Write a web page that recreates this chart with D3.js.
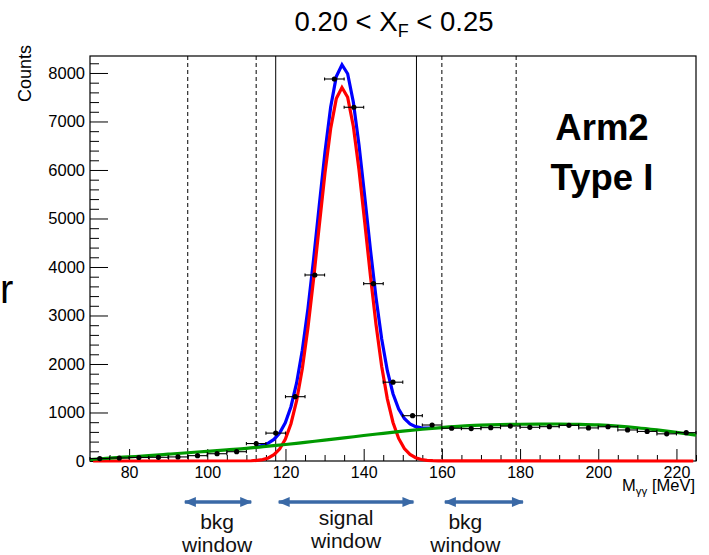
<!DOCTYPE html>
<html>
<head>
<meta charset="utf-8" />
<style>
  body { margin: 0; background: #fff; }
  svg { display: block; font-family: "Liberation Sans", Arial, sans-serif; }
</style>
</head>
<body>
<svg id="chart"></svg>
<script src="https://d3js.org/d3.v7.min.js"></script>
<script>
  // histogram: bin centres (MeV) and counts
  const binCenters = [72.5, 77.5, 82.5, 87.5, 92.5, 97.5, 102.5, 107.5, 112.5, 117.5,
    122.5, 127.5, 132.5, 137.5, 142.5, 147.5, 152.5, 157.5, 162.5, 167.5,
    172.5, 177.5, 182.5, 187.5, 192.5, 197.5, 202.5, 207.5, 212.5, 217.5, 222.5];
  const counts = [50, 62, 72, 76, 84, 110, 150, 192, 360, 575,
    1326, 3835, 7876, 7293, 3656, 1625, 934, 742, 675, 668,
    688, 720, 695, 708, 735, 682, 706, 640, 610, 560, 585];
  const binHalfWidth = 2.5;

  // background fit (green)
  const bkgX = [70, 75, 80, 85, 90, 95, 100, 105, 110, 115, 120, 125, 130, 135, 140, 145,
    150, 155, 160, 165, 170, 175, 180, 185, 190, 195, 200, 205, 210, 215, 220, 225];
  const bkgY = [30, 60, 85, 110, 140, 170, 200, 230, 260, 300, 340, 385, 430, 475, 525, 570,
    615, 655, 690, 720, 738, 750, 758, 762, 763, 757, 745, 720, 685, 640, 590, 535];

  // signal fit (red) and total fit (blue), sampled
  const peakX = [112.7, 114.15, 115.6, 117.05, 118.5, 119.95, 121.4, 122.85, 124.3, 125.75,
    127.2, 128.65, 130.1, 131.55, 133.0, 134.45, 135.9, 137.35, 138.8, 140.25,
    141.7, 143.15, 144.6, 146.05, 147.5, 148.95, 150.4, 151.85, 153.3, 154.75, 156.2, 157.65];
  const sigY = [13, 29, 63, 129, 247, 448, 768, 1243, 1903, 2753,
    3763, 4861, 5937, 6850, 7471, 7700, 7500, 6904, 6005, 4938,
    3837, 2818, 1955, 1282, 795, 465, 258, 135, 67, 31, 14, 6];
  const totY = [293, 322, 368, 445, 575, 788, 1120, 1609, 2282, 3145,
    4168, 5279, 6368, 7294, 7928, 8170, 7984, 7402, 6518, 5465,
    4377, 3371, 2521, 1861, 1387, 1070, 876, 764, 708, 684, 678, 676];
  const sigTailX = [70.8, 111.25];
  const sigTailY = [0, 5];
  const sigEndX = [159.1, 224.3];
  const sigEndY = [2, 0];

  const dashedCuts = [95, 112.5, 160, 179];
  const solidCuts = [117.5, 153.5];

  const xMajor = [80, 100, 120, 140, 160, 180, 200, 220];
  const yMajor = [0, 1000, 2000, 3000, 4000, 5000, 6000, 7000, 8000];

  const windowNames = [["bkg", "window"], ["signal", "window"], ["bkg", "window"]];
  const windowSpans = [[93.5, 112], [117.5, 153.5], [160, 181.5]];
  const windowLabelAt = [102.5, 135.5, 166];

  const width = 709;
  const height = 555;

  const x = d3.scaleLinear().domain([70, 225]).range([90, 696]);
  const y = d3.scaleLinear().domain([0, 8350]).range([461, 56]);

  const svg = d3.select("#chart")
    .attr("width", width)
    .attr("height", height)
    .attr("viewBox", [0, 0, width, height]);

  // window boundaries
  svg.append("g")
    .selectAll("line")
    .data(dashedCuts)
    .join("line")
    .attr("x1", (d) => x(d)).attr("x2", (d) => x(d))
    .attr("y1", y(8350)).attr("y2", y(0))
    .attr("stroke", "#000")
    .attr("stroke-width", 1)
    .attr("stroke-dasharray", "4,3");

  svg.append("g")
    .selectAll("line")
    .data(solidCuts)
    .join("line")
    .attr("x1", (d) => x(d)).attr("x2", (d) => x(d))
    .attr("y1", y(8350)).attr("y2", y(0))
    .attr("stroke", "#000")
    .attr("stroke-width", 1);

  // frame
  svg.append("rect")
    .attr("x", x(70)).attr("y", y(8350))
    .attr("width", x(225) - x(70)).attr("height", y(0) - y(8350))
    .attr("fill", "none")
    .attr("stroke", "#000")
    .attr("stroke-width", 1.2);

  // x axis (ticks point inward)
  const xMinor = d3.range(75, 226, 5).filter((v) => !xMajor.includes(v));
  svg.append("g")
    .attr("transform", `translate(0,${y(0)})`)
    .call(d3.axisBottom(x).tickValues(xMinor).tickSize(-6).tickFormat(""))
    .call((g) => g.select(".domain").remove());
  svg.append("g")
    .attr("transform", `translate(0,${y(0)})`)
    .call(d3.axisBottom(x).tickValues(xMajor).tickSize(-12).tickPadding(6))
    .call((g) => g.select(".domain").remove())
    .call((g) => g.selectAll("text").attr("font-size", 16).attr("font-family", "Liberation Sans, Arial, sans-serif").attr("fill", "#000"));

  // y axis
  const yMinor = d3.range(0, 8351, 200).filter((v) => !yMajor.includes(v));
  svg.append("g")
    .attr("transform", `translate(${x(70)},0)`)
    .call(d3.axisLeft(y).tickValues(yMinor).tickSize(-9).tickFormat(""))
    .call((g) => g.select(".domain").remove());
  svg.append("g")
    .attr("transform", `translate(${x(70)},0)`)
    .call(d3.axisLeft(y).tickValues(yMajor).tickSize(-18).tickPadding(5).tickFormat(d3.format("d")))
    .call((g) => g.select(".domain").remove())
    .call((g) => g.selectAll("text").attr("font-size", 16.5).attr("font-family", "Liberation Sans, Arial, sans-serif").attr("fill", "#000"));

  // fitted curves
  const line = d3.line().x((d) => x(d[0])).y((d) => y(d[1]));
  const smooth = d3.line().x((d) => x(d[0])).y((d) => y(d[1])).curve(d3.curveMonotoneX);

  svg.append("path")
    .datum(d3.zip(peakX, totY))
    .attr("d", line)
    .attr("fill", "none").attr("stroke", "#0000ff").attr("stroke-width", 3.2)
    .attr("stroke-linejoin", "miter");

  const sigPts = d3.zip(sigTailX, sigTailY).concat(d3.zip(peakX, sigY), d3.zip(sigEndX, sigEndY));
  svg.append("path")
    .datum(sigPts)
    .attr("d", line)
    .attr("fill", "none").attr("stroke", "#ff0000").attr("stroke-width", 3.2)
    .attr("stroke-linejoin", "miter");

  svg.append("path")
    .datum(d3.zip(bkgX, bkgY))
    .attr("d", smooth)
    .attr("fill", "none").attr("stroke", "#009a00").attr("stroke-width", 3.2);

  // data points with horizontal bin-width bars
  const pts = svg.append("g").selectAll("g").data(d3.zip(binCenters, counts)).join("g");
  pts.append("line")
    .attr("x1", (d) => x(d[0] - binHalfWidth)).attr("x2", (d) => x(d[0] + binHalfWidth))
    .attr("y1", (d) => y(d[1])).attr("y2", (d) => y(d[1]))
    .attr("stroke", "#000").attr("stroke-width", 1.1);
  pts.selectAll(".cap")
    .data((d) => [[d[0] - binHalfWidth, d[1]], [d[0] + binHalfWidth, d[1]]])
    .join("line")
    .attr("class", "cap")
    .attr("x1", (d) => x(d[0])).attr("x2", (d) => x(d[0]))
    .attr("y1", (d) => y(d[1]) - 1.6).attr("y2", (d) => y(d[1]) + 1.6)
    .attr("stroke", "#000").attr("stroke-width", 1.1);
  pts.append("circle")
    .attr("cx", (d) => x(d[0])).attr("cy", (d) => y(d[1]))
    .attr("r", 2.6).attr("fill", "#000");

  // titles
  const title = svg.append("text")
    .attr("x", 394).attr("y", 31)
    .attr("text-anchor", "middle")
    .attr("font-size", 27.5)
    .attr("fill", "#000");
  title.append("tspan").text("0.20 < X");
  title.append("tspan").attr("font-size", 18).attr("dy", 6).text("F");
  title.append("tspan").attr("dy", -6).text(" < 0.25");

  svg.append("text")
    .attr("transform", "translate(31,45) rotate(-90)")
    .attr("text-anchor", "end")
    .attr("font-size", 18)
    .attr("fill", "#000")
    .text("Counts");

  const xTitle = svg.append("text")
    .attr("x", 695).attr("y", 491)
    .attr("text-anchor", "end")
    .attr("font-size", 16.5)
    .attr("fill", "#000");
  xTitle.append("tspan").text("M");
  xTitle.append("tspan").attr("font-size", 11.5).attr("dy", 4).text("γγ");
  xTitle.append("tspan").attr("dy", -4).text(" [MeV]");

  svg.append("text")
    .attr("x", 0).attr("y", 303)
    .attr("font-size", 40)
    .attr("fill", "#000")
    .text("r");

  svg.append("g")
    .attr("text-anchor", "middle")
    .attr("font-size", 36.5)
    .attr("font-weight", "bold")
    .attr("fill", "#000")
    .selectAll("text")
    .data(["Arm2", "Type I"])
    .join("text")
    .attr("x", 602)
    .attr("y", (d, i) => 140 + i * 50)
    .text((d) => d);

  // window arrows
  const arrowColor = "#3a69a6";
  const arrowY = 502;
  const defs = svg.append("defs");
  defs.append("marker")
    .attr("id", "head")
    .attr("viewBox", "0 0 12 10")
    .attr("refX", 11).attr("refY", 5)
    .attr("markerUnits", "userSpaceOnUse")
    .attr("markerWidth", 13).attr("markerHeight", 10)
    .attr("orient", "auto-start-reverse")
    .append("path")
    .attr("d", "M0,0L12,5L0,10Z")
    .attr("fill", arrowColor);

  const win = svg.append("g").selectAll("g").data(windowSpans).join("g");
  win.append("line")
    .attr("x1", (d) => x(d[0]) + 3).attr("x2", (d) => x(d[1]) - 3)
    .attr("y1", arrowY).attr("y2", arrowY)
    .attr("stroke", arrowColor).attr("stroke-width", 3.5)
    .attr("marker-start", "url(#head)").attr("marker-end", "url(#head)");

  win.append("text")
    .attr("text-anchor", "middle")
    .attr("font-size", 21)
    .attr("fill", "#111")
    .selectAll("tspan")
    .data((d, i) => windowNames[i].map((t, j) => ({ t, j, i })))
    .join("tspan")
    .attr("x", (d) => x(windowLabelAt[d.i]))
    .attr("y", (d) => (d.i === 1 ? 525 : 529) + d.j * 22.5)
    .text((d) => d.t);
</script>
</body>
</html>
